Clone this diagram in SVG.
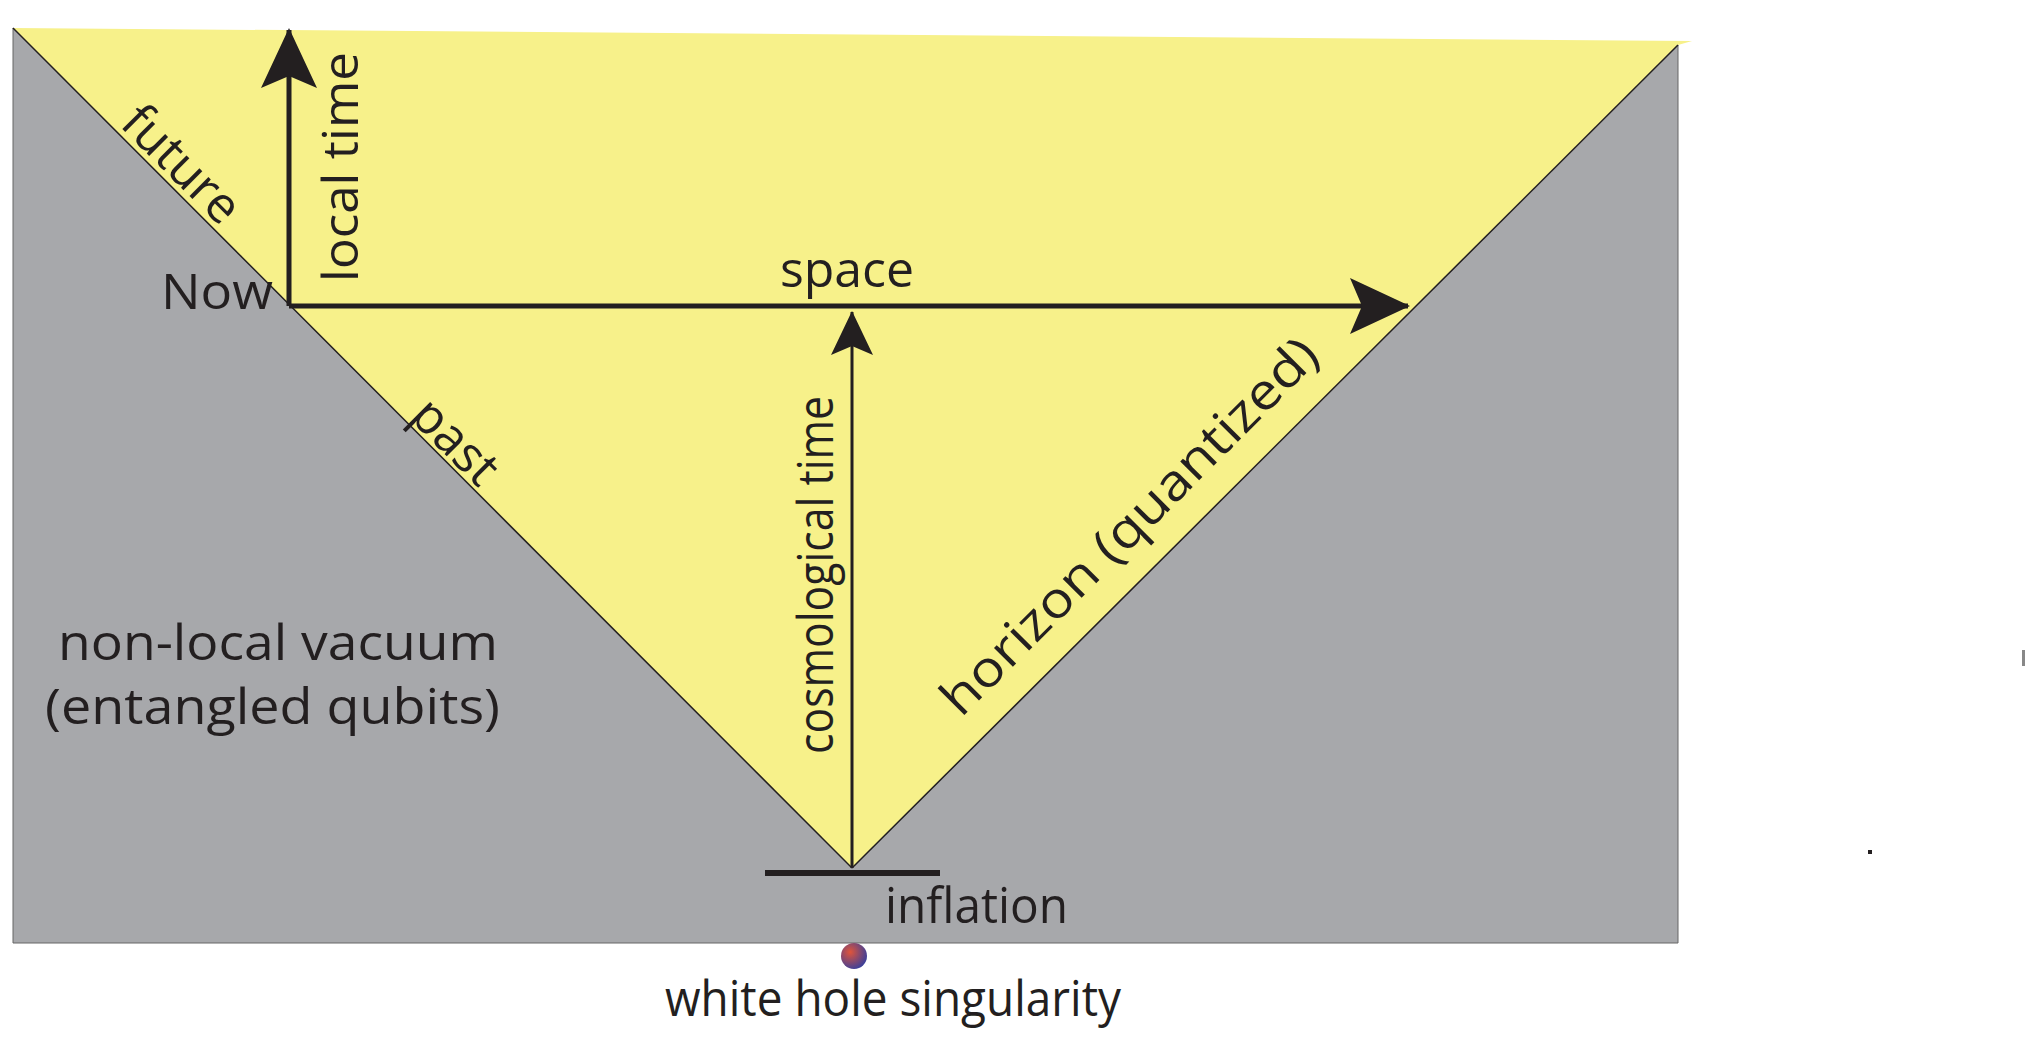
<svg xmlns="http://www.w3.org/2000/svg" width="2025" height="1038" viewBox="0 0 2025 1038">
<style>
text{font-family:"Open Sans","Liberation Sans",sans-serif;fill:#231F20;font-size:50px}
.ln{stroke:#231F20;fill:none}
</style>
<defs>
<marker id="big" markerUnits="userSpaceOnUse" viewBox="0 0 60 56" refX="58" refY="28" markerWidth="60" markerHeight="56" orient="auto"><path d="M0,0 L60,28 L0,56 L12,28 Z" fill="#231F20"/></marker>
<marker id="sm" markerUnits="userSpaceOnUse" viewBox="0 0 44 42" refX="43" refY="21" markerWidth="44" markerHeight="42" orient="auto"><path d="M0,0 L44,21 L0,42 L9,21 Z" fill="#231F20"/></marker>
<radialGradient id="dot" cx="0.35" cy="0.35" r="0.7"><stop offset="0" stop-color="#E0543A"/><stop offset="1" stop-color="#3B3F9A"/></radialGradient>
</defs>
<rect width="2025" height="1038" fill="#fff"/>
<g id="background">
<polygon points="13,28 852,868 1678,45 1678,943 13,943" fill="#A7A8AB" stroke="#666" stroke-width="1"/>
<polygon points="13,28 1692,41 1678,45 852,868" fill="#F7F18A"/>
<line class="ln" x1="13" y1="28" x2="852" y2="868" stroke-width="1.5"/>
<line class="ln" x1="1678" y1="45" x2="852" y2="868" stroke-width="1.5"/>
<rect x="1868" y="850" width="4" height="4" fill="#231F20"/>
<rect x="2022" y="650" width="3" height="16" fill="#888"/>
</g>
<g id="connectors">
<line class="ln" x1="289" y1="306" x2="289" y2="30" stroke-width="5" marker-end="url(#big)"/>
<line class="ln" x1="289" y1="306" x2="1408" y2="306" stroke-width="5" marker-end="url(#big)"/>
<line class="ln" x1="852" y1="868" x2="852" y2="312" stroke-width="3" marker-end="url(#sm)"/>
<line class="ln" x1="765" y1="873" x2="940" y2="873" stroke-width="6"/>
</g>
<g id="now"><text x="161" y="309" textLength="112" lengthAdjust="spacingAndGlyphs">Now</text></g>
<g id="space"><text x="847" y="287" text-anchor="middle">space</text></g>
<g id="local-time"><text transform="translate(358,282) rotate(-90)" textLength="230" lengthAdjust="spacingAndGlyphs">local time</text></g>
<g id="cosmological-time"><text transform="translate(833,754) rotate(-90)" font-size="40" textLength="358" lengthAdjust="spacingAndGlyphs">cosmological time</text></g>
<g id="future"><text transform="translate(181,165) rotate(45)" text-anchor="middle" dy="16">future</text></g>
<g id="past"><text transform="translate(455,442) rotate(45)" text-anchor="middle" dy="16">past</text></g>
<g id="horizon"><text transform="translate(1130,527) rotate(-45)" text-anchor="middle" dy="16" textLength="510" lengthAdjust="spacingAndGlyphs">horizon  (quantized)</text></g>
<g id="vacuum">
<text x="58" y="660" font-size="47" textLength="440" lengthAdjust="spacingAndGlyphs">non-local vacuum</text>
<text x="45" y="724" font-size="47" textLength="455" lengthAdjust="spacingAndGlyphs">(entangled qubits)</text>
</g>
<g id="inflation"><text x="885" y="923" textLength="183" lengthAdjust="spacingAndGlyphs">inflation</text></g>
<g id="singularity">
<circle cx="854" cy="956" r="13" fill="url(#dot)"/>
<text x="665" y="1016" textLength="456" lengthAdjust="spacingAndGlyphs">white hole singularity</text>
</g>
</svg>
